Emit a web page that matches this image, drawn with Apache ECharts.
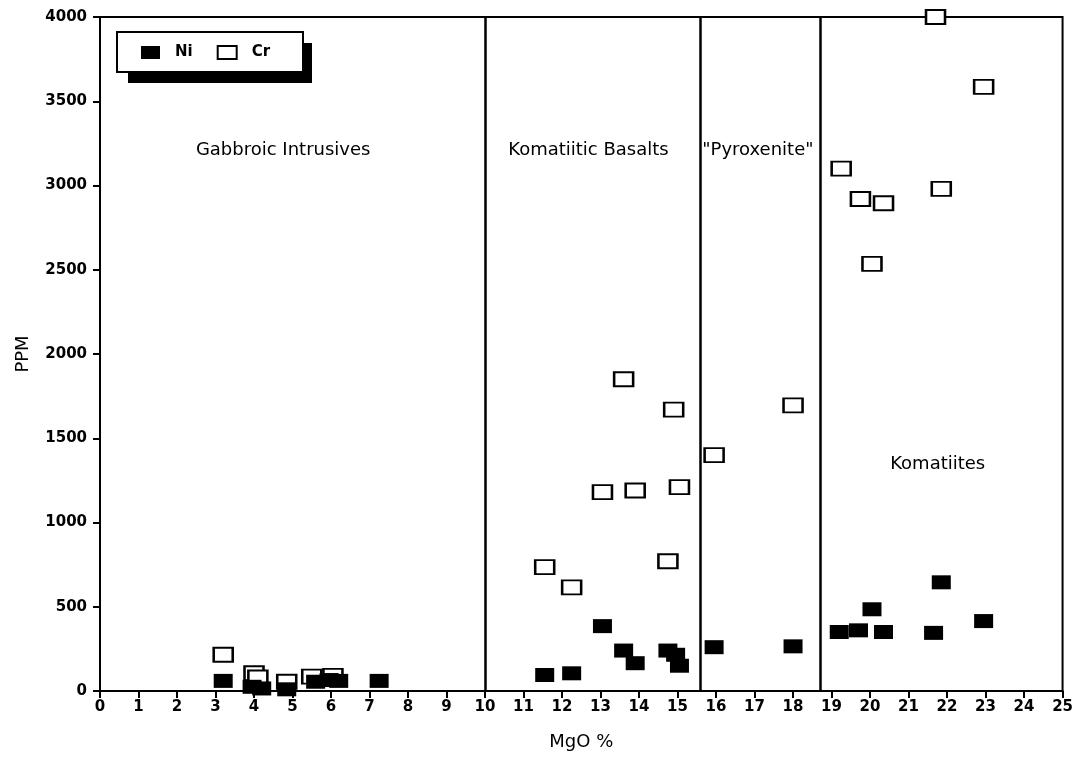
<!DOCTYPE html>
<html>
<head>
<meta charset="utf-8">
<script src="https://cdn.jsdelivr.net/npm/echarts@6/dist/echarts.min.js"></script>
<style>
html,body{margin:0;padding:0;background:#fff;}
#chart{width:1076px;height:757px;}
</style>
</head>
<body>
<div id="chart"></div>
<script>
// ---- data ----
const niMgO = [3.2, 3.95, 4.2, 4.85, 5.6, 5.95, 6.2, 7.25,
               11.55, 12.25, 13.05, 13.6, 13.9, 14.75, 14.95, 15.05,
               15.95, 18.0,
               19.2, 19.7, 20.05, 20.35, 21.65, 21.85, 22.95];
const niPPM = [60, 25, 15, 10, 55, 65, 60, 60,
               95, 105, 385, 240, 165, 240, 215, 150,
               260, 265,
               350, 360, 485, 350, 345, 645, 415];
const crMgO = [3.2, 4.0, 4.1, 4.85, 5.5, 6.05,
               11.55, 12.25, 13.05, 13.6, 13.9, 14.75, 14.9, 15.05,
               15.95, 18.0,
               19.25, 19.75, 20.05, 20.35, 21.7, 21.85, 22.95];
const crPPM = [215, 105, 80, 55, 85, 90,
               735, 615, 1180, 1850, 1190, 770, 1670, 1210,
               1400, 1695,
               3100, 2920, 2535, 2895, 4000, 2980, 3585];
const boundaries = [10, 15.6, 18.7];
const regionNames = ['Gabbroic Intrusives', 'Komatiitic Basalts', '"Pyroxenite"', 'Komatiites'];
const regionMgO = [4.77, 12.7, 17.1, 21.77];
const regionPPM = [3205, 3205, 3205, 1340];
const xTicks = {min: 0, max: 25, interval: 1};
const yTicks = {min: 0, max: 4000, interval: 500};

const zip = (a, b) => a.map((v, i) => [v, b[i]]);
const FONT = 'DejaVu Sans';

const chart = echarts.init(document.getElementById('chart'), null, {renderer: 'canvas'});
chart.setOption({
  backgroundColor: '#fff',
  animation: false,
  grid: {left: 100, right: 13, top: 17, bottom: 66, show: true, borderColor: '#000', borderWidth: 2},
  graphic: [
    {type: 'rect', z: 0, shape: {x: 128, y: 43, width: 184, height: 40}, style: {fill: '#000'}},
    {type: 'rect', z: 1, shape: {x: 117, y: 32, width: 186, height: 40}, style: {fill: '#fff', stroke: '#000', lineWidth: 2}}
  ],
  legend: {
    data: ['Ni', 'Cr'],
    left: 136, top: 40,
    itemWidth: 19, itemHeight: 13, itemGap: 24,
    textStyle: {fontFamily: FONT, fontSize: 15, fontWeight: 'bold', color: '#000', padding: [0, 0, 0, 10]},
    z: 10
  },
  xAxis: {
    type: 'value', min: xTicks.min, max: xTicks.max, interval: xTicks.interval,
    name: 'MgO %', nameLocation: 'middle', nameGap: 42,
    nameTextStyle: {fontFamily: FONT, fontSize: 18, color: '#000'},
    axisLine: {lineStyle: {color: '#000', width: 2}},
    axisTick: {show: true, length: 7, lineStyle: {color: '#000', width: 2}},
    axisLabel: {fontFamily: FONT, fontSize: 15, fontWeight: 'bold', color: '#000', margin: 9},
    splitLine: {show: false}
  },
  yAxis: {
    type: 'value', min: yTicks.min, max: yTicks.max, interval: yTicks.interval,
    name: 'PPM', nameLocation: 'middle', nameGap: 68,
    nameTextStyle: {fontFamily: FONT, fontSize: 18, color: '#000'},
    axisLine: {lineStyle: {color: '#000', width: 2}},
    axisTick: {show: true, length: 7, lineStyle: {color: '#000', width: 2}},
    axisLabel: {fontFamily: FONT, fontSize: 15, fontWeight: 'bold', color: '#000', margin: 13,
                formatter: v => String(v)},
    splitLine: {show: false}
  },
  series: [
    {
      name: 'Cr', type: 'scatter', clip: false, z: 3,
      symbol: 'rect', symbolSize: [19, 14],
      itemStyle: {color: '#fff', borderColor: '#000', borderWidth: 2.2, opacity: 1},
      data: zip(crMgO, crPPM)
    },
    {
      name: 'Ni', type: 'scatter', clip: false, z: 4,
      symbol: 'rect', symbolSize: [19, 14],
      itemStyle: {color: '#000', opacity: 1},
      data: zip(niMgO, niPPM)
    },
    {
      name: 'regions', type: 'scatter', z: 5, symbol: 'rect', symbolSize: 1, silent: true,
      itemStyle: {color: '#fff', opacity: 1},
      data: regionNames.map((n, i) => ({value: [regionMgO[i], regionPPM[i]], name: n})),
      label: {show: true, position: [0, 0], align: 'center', verticalAlign: 'middle',
              formatter: p => p.name,
              fontFamily: FONT, fontSize: 18, color: '#000', opacity: 1, textBorderWidth: 0},
      markLine: {
        silent: true, symbol: 'none', animation: false,
        label: {show: false},
        lineStyle: {color: '#000', width: 2.5, type: 'solid'},
        data: boundaries.map(b => ({xAxis: b}))
      }
    }
  ]
});
</script>
</body>
</html>
